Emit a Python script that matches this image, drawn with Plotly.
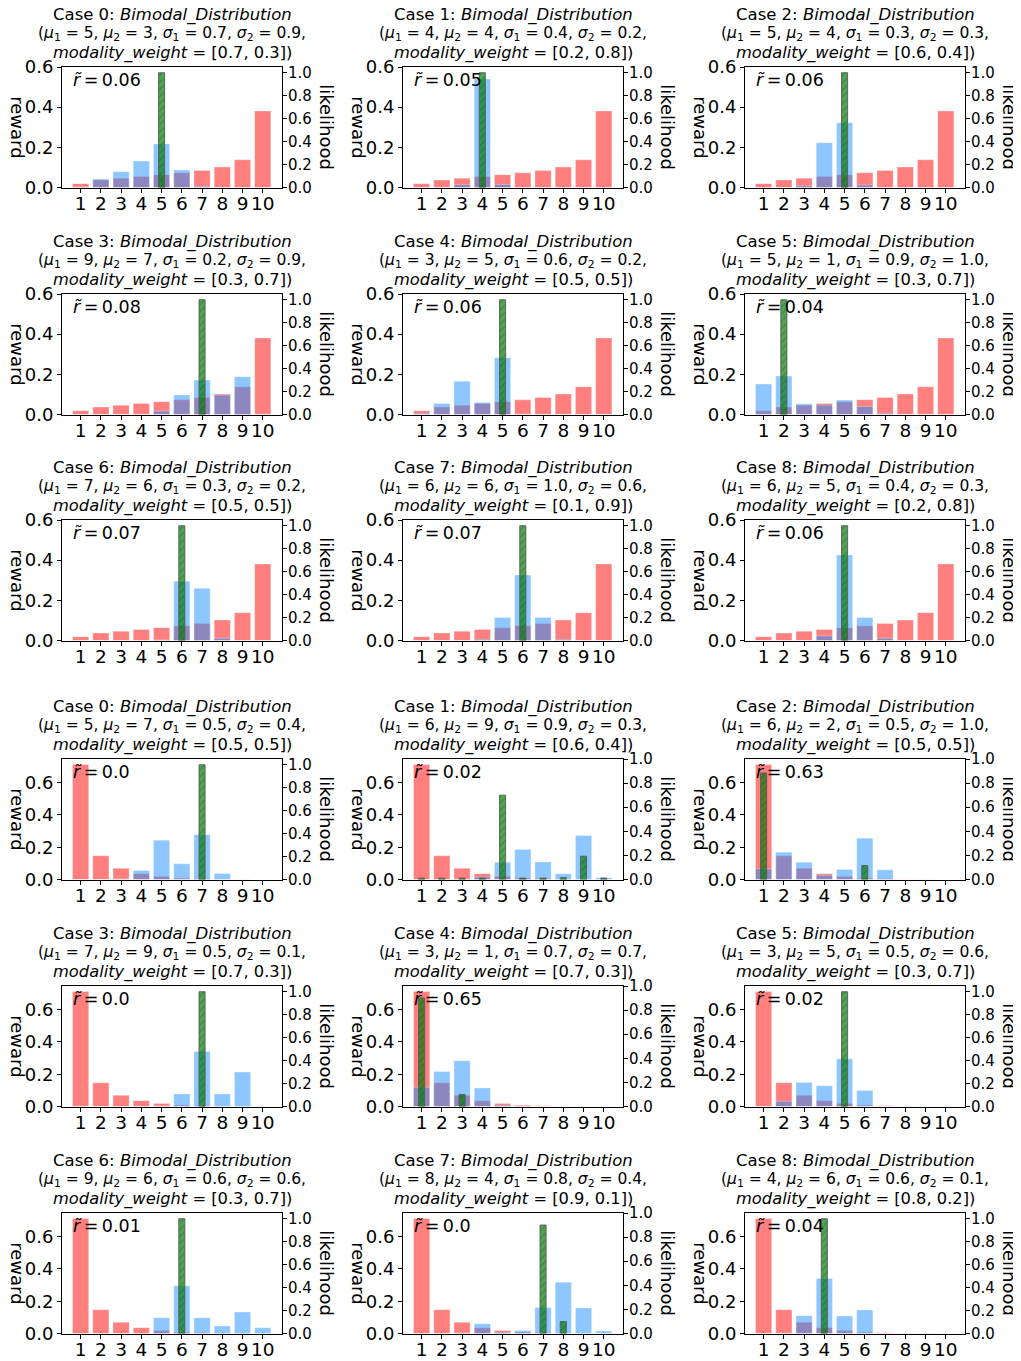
import plotly.graph_objects as go

# the page body adds an 8px margin, so the figure is drawn 8px smaller and
# every pixel position below is given in page pixels and shifted by OFF
OFF = 8
PAGE_W, PAGE_H = 1021, 1361
W, H = PAGE_W - OFF, PAGE_H - OFF

actions = list(range(1, 11))
action_labels = [str(a) for a in actions]

reward_top = [0.019, 0.037, 0.046, 0.055, 0.064, 0.073, 0.085, 0.102, 0.138, 0.381]
reward_bottom = [0.712, 0.147, 0.069, 0.036, 0.018, 0.008, 0.004, 0.002, 0.001, 0.0005]

# title parameters (top group then bottom group)
case_ids = [0, 1, 2, 3, 4, 5, 6, 7, 8, 0, 1, 2, 3, 4, 5, 6, 7, 8]
mu1 = [5, 4, 5, 9, 3, 5, 7, 6, 6, 5, 6, 6, 7, 3, 3, 9, 8, 4]
mu2 = [3, 4, 4, 7, 5, 1, 6, 6, 5, 7, 9, 2, 9, 1, 5, 6, 4, 6]
sigma1 = ["0.7", "0.4", "0.3", "0.2", "0.6", "0.9", "0.3", "1.0", "0.4",
          "0.5", "0.9", "0.5", "0.5", "0.7", "0.5", "0.6", "0.8", "0.6"]
sigma2 = ["0.9", "0.2", "0.3", "0.9", "0.2", "1.0", "0.2", "0.6", "0.3",
          "0.4", "0.3", "1.0", "0.1", "0.7", "0.6", "0.6", "0.4", "0.1"]
modality_weight = ["[0.7, 0.3]", "[0.2, 0.8]", "[0.6, 0.4]", "[0.3, 0.7]", "[0.5, 0.5]",
                   "[0.3, 0.7]", "[0.5, 0.5]", "[0.1, 0.9]", "[0.2, 0.8]",
                   "[0.5, 0.5]", "[0.6, 0.4]", "[0.5, 0.5]", "[0.7, 0.3]", "[0.7, 0.3]",
                   "[0.3, 0.7]", "[0.3, 0.7]", "[0.9, 0.1]", "[0.8, 0.2]"]
r_tilde = ["0.06", "0.05", "0.06", "0.08", "0.06", "0.04", "0.07", "0.07", "0.06",
           "0.0", "0.02", "0.63", "0.0", "0.65", "0.02", "0.01", "0.0", "0.04"]

# likelihood of the bimodal distribution (blue bars, right axis)
likelihood = [
    [0.005, 0.073, 0.137, 0.23, 0.38, 0.152, 0.01, 0, 0, 0],
    [0, 0, 0.025, 0.945, 0.026, 0, 0, 0, 0, 0],
    [0, 0, 0.015, 0.39, 0.565, 0.022, 0, 0, 0, 0],
    [0, 0, 0, 0, 0.03, 0.17, 0.30, 0.17, 0.33, 0.003],
    [0.01, 0.096, 0.29, 0.105, 0.495, 0.003, 0, 0, 0, 0],
    [0.265, 0.335, 0.093, 0.082, 0.126, 0.07, 0.01, 0, 0, 0],
    [0, 0, 0, 0, 0.005, 0.516, 0.455, 0.02, 0, 0],
    [0, 0, 0, 0.01, 0.2, 0.57, 0.2, 0.01, 0, 0],
    [0, 0, 0, 0.04, 0.745, 0.2, 0.02, 0, 0, 0],
    [0, 0, 0.005, 0.078, 0.343, 0.137, 0.39, 0.052, 0, 0],
    [0, 0, 0.005, 0.02, 0.144, 0.25, 0.146, 0.047, 0.365, 0.014],
    [0.088, 0.227, 0.144, 0.036, 0.083, 0.343, 0.08, 0, 0, 0],
    [0, 0, 0, 0, 0.005, 0.11, 0.48, 0.11, 0.30, 0],
    [0.16, 0.29, 0.38, 0.154, 0.01, 0, 0, 0, 0, 0],
    [0, 0.045, 0.21, 0.18, 0.415, 0.14, 0, 0, 0, 0],
    [0, 0, 0, 0, 0.138, 0.415, 0.138, 0.066, 0.187, 0.05],
    [0, 0, 0.005, 0.08, 0.01, 0.024, 0.215, 0.426, 0.212, 0.02],
    [0, 0.003, 0.155, 0.48, 0.152, 0.204, 0, 0, 0, 0],
]

# policy likelihood (green hatched bars, right axis)
policy = [
    [0, 0, 0, 0, 1.0, 0, 0, 0, 0, 0],
    [0, 0, 0, 1.0, 0, 0, 0, 0, 0, 0],
    [0, 0, 0, 0, 1.0, 0, 0, 0, 0, 0],
    [0, 0, 0, 0, 0, 0, 1.0, 0, 0, 0],
    [0, 0, 0, 0, 1.0, 0, 0, 0, 0, 0],
    [0, 1.0, 0, 0, 0, 0, 0, 0, 0, 0],
    [0, 0, 0, 0, 0, 1.0, 0, 0, 0, 0],
    [0, 0, 0, 0, 0, 1.0, 0, 0, 0, 0],
    [0, 0, 0, 0, 1.0, 0, 0, 0, 0, 0],
    [0, 0, 0, 0, 0, 0, 1.0, 0, 0, 0],
    [0.012, 0.012, 0.012, 0.012, 0.70, 0.012, 0.012, 0.015, 0.193, 0.012],
    [0.884, 0, 0, 0, 0, 0.116, 0, 0, 0, 0],
    [0, 0, 0, 0, 0, 0, 1.0, 0, 0, 0],
    [0.9, 0, 0.1, 0, 0, 0, 0, 0, 0, 0],
    [0, 0, 0, 0, 1.0, 0, 0, 0, 0, 0],
    [0, 0, 0, 0, 0, 1.0, 0, 0, 0, 0],
    [0, 0, 0, 0, 0, 0, 0.9, 0.1, 0, 0],
    [0, 0, 0, 1.0, 0, 0, 0, 0, 0, 0],
]

left_tops = [0.6] * 9 + [0.746] * 9
right_tops = [1.05] * 9 + [1.05, 1.0, 1.0, 1.05, 1.0, 1.05, 1.05, 1.0, 1.05]

col_x0 = [62, 403, 745]
panel_w = 220
row_y0 = [67, 294, 520, 759, 986, 1213]
panel_h = 120.5

FONT = "DejaVu Sans"
fig = go.Figure()
layout = {}
annotations = []


def px(xp):
    return (xp - OFF) / W


def py(yp):
    return 1 - (yp - OFF) / H


def sfx(k):
    return "" if k == 1 else str(k)


for i in range(18):
    grp = 0 if i < 9 else 1
    j = i % 9
    r = j // 3 + 3 * grp
    c = j % 3
    x0 = col_x0[c]
    x1 = x0 + panel_w
    y0 = row_y0[r]
    y1 = y0 + panel_h
    xd = [px(x0), px(x1)]
    yd = [py(y1), py(y0)]
    xi = i + 1
    yl = 2 * i + 1
    yr = 2 * i + 2
    xa, ya, yb = "x" + sfx(xi), "y" + sfx(yl), "y" + sfx(yr)
    rewards = reward_top if grp == 0 else reward_bottom

    fig.add_trace(go.Bar(x=actions, y=rewards, xaxis=xa, yaxis=ya, width=0.8,
                         marker=dict(color="rgba(255,0,0,0.5)",
                                     line=dict(color="rgba(255,255,255,0.5)", width=0.6)),
                         showlegend=False))
    fig.add_trace(go.Bar(x=actions, y=likelihood[i], xaxis=xa, yaxis=yb, width=0.8,
                         marker=dict(color="rgba(30,144,255,0.5)",
                                     line=dict(color="rgba(255,255,255,0.5)", width=0.6)),
                         showlegend=False))
    gvals = [v if v > 0 else None for v in policy[i]]
    fig.add_trace(go.Bar(x=actions, y=gvals, xaxis=xa, yaxis=yb, width=0.3,
                         marker=dict(color="rgba(0,128,0,0.7)",
                                     line=dict(color="rgba(90,90,90,0.9)", width=1),
                                     pattern=dict(shape="/", fgcolor="rgba(50,50,80,0.75)",
                                                  size=5, solidity=0.2)),
                         showlegend=False))

    layout["xaxis" + sfx(xi)] = dict(
        domain=xd, anchor=ya, range=[0.08, 10.95], tickmode="array",
        tickvals=actions, ticktext=action_labels, ticks="outside", ticklen=4,
        tickwidth=1, tickcolor="black", showline=True, linecolor="black",
        linewidth=1, mirror=True, showgrid=False, zeroline=False, automargin=False,
        ticklabelstandoff=-5,
        tickfont=dict(family=FONT, size=18.5, color="black"))
    layout["yaxis" + sfx(yl)] = dict(
        domain=yd, anchor=xa, range=[0, left_tops[i]], tickmode="array",
        tickvals=[0, 0.2, 0.4, 0.6], ticktext=["0.0", "0.2", "0.4", "0.6"],
        ticks="outside", ticklen=4, tickwidth=1, tickcolor="black",
        showline=True, linecolor="black", linewidth=1, showgrid=False,
        zeroline=False, automargin=False,
        tickfont=dict(family=FONT, size=18, color="black"))
    layout["yaxis" + sfx(yr)] = dict(
        overlaying=ya, anchor=xa, side="right", range=[0, right_tops[i]],
        tickmode="array", tickvals=[0, 0.2, 0.4, 0.6, 0.8, 1.0],
        ticktext=["0.0", "0.2", "0.4", "0.6", "0.8", "1.0"], ticks="outside",
        ticklen=4, tickwidth=1, tickcolor="black", showline=True,
        linecolor="black", linewidth=1, showgrid=False, zeroline=False,
        automargin=False, ticklabelstandoff=-2,
        tickfont=dict(family=FONT, size=15, color="black"))

    cx = px((x0 + x1) / 2)
    lines = [
        (f"Case {case_ids[i]}: <i>Bimodal_Distribution</i>", 16.5, 52),
        (f"(<i>μ</i><sub>1</sub> = {mu1[i]}, <i>μ</i><sub>2</sub> = {mu2[i]}, "
         f"<i>σ</i><sub>1</sub> = {sigma1[i]}, <i>σ</i><sub>2</sub> = {sigma2[i]},", 15.5, 33),
        (f"<i>modality_weight</i> = {modality_weight[i]})", 16.3, 14),
    ]
    for t, fs, o in lines:
        annotations.append(dict(x=cx, y=py(y0 - o), xref="paper", yref="paper",
                                text=t, showarrow=False, xanchor="center",
                                yanchor="middle", borderpad=0,
                                font=dict(family=FONT, size=fs, color="black")))
    annotations.append(dict(x=px(x0 + 9), y=py(y0 + 13), xref="paper",
                            yref="paper",
                            text=f"<i>r̃</i>\u2009=\u2009{r_tilde[i]}",
                            showarrow=False, xanchor="left", yanchor="middle",
                            font=dict(family=FONT, size=17.5, color="black")))
    annotations.append(dict(x=px(x0 - 44), y=py(y0 + panel_h / 2),
                            xref="paper", yref="paper", text="reward",
                            textangle=90, showarrow=False, xanchor="center",
                            yanchor="middle",
                            font=dict(family=FONT, size=18, color="black")))
    annotations.append(dict(x=px(x1 + 45), y=py(y0 + panel_h / 2),
                            xref="paper", yref="paper", text="likelihood",
                            textangle=90, showarrow=False, xanchor="center",
                            yanchor="middle",
                            font=dict(family=FONT, size=18, color="black")))

fig.update_layout(**layout)
fig.update_layout(width=W, height=H, margin=dict(l=0, r=0, t=0, b=0, autoexpand=False),
                  barmode="overlay", plot_bgcolor="white", paper_bgcolor="white",
                  annotations=annotations, font=dict(family=FONT))
fig.write_html("out.html")
